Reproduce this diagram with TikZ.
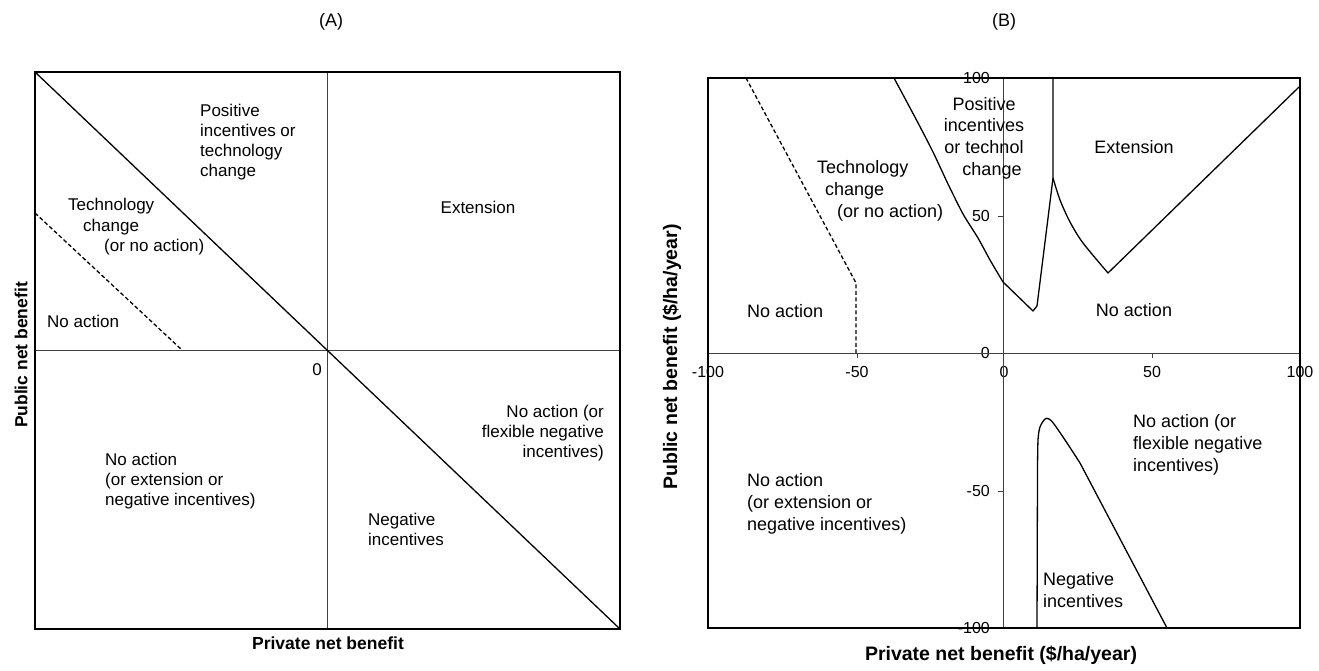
\documentclass[tikz,border=0pt]{standalone}
\usepackage{fontspec}
\setmainfont{Liberation Sans}
\begin{document}
\begin{tikzpicture}[x=1pt,y=-1pt,
  frame/.style={line width=1.6pt},
  axisline/.style={line width=0.8pt, black!75},
  curve/.style={line width=1.3pt, line join=round},
  dashline/.style={line width=1.3pt, dash pattern=on 4pt off 2.5pt},
  ticklen/.style={line width=0.8pt, black!75},
  lblA/.style={font=\fontsize{17}{20}\selectfont, inner sep=0pt},
  lblB/.style={font=\fontsize{18}{22}\selectfont, inner sep=0pt},
  ticklbl/.style={font=\fontsize{16}{18}\selectfont, inner sep=0pt},
  axistitleA/.style={font=\bfseries\fontsize{17.5}{20}\selectfont, inner sep=0pt},
  axistitleB/.style={font=\bfseries\fontsize{19.5}{22}\selectfont, inner sep=0pt},
  paneltitle/.style={font=\fontsize{18}{20}\selectfont, inner sep=0pt}]
\useasboundingbox (0,0) rectangle (1319,671);

% ---------------- Panel A ----------------
\node[paneltitle] (titleA) at (331,22) {(A)};
\draw[axisline] (35,350) -- (620,350);
\draw[axisline] (327,72) -- (327,629);
\draw[curve] (35,72) -- (620,629);
\draw[dashline] (35,213) -- (182,350);
\draw[frame] (35,72) rectangle (620,629);

% multi-line nodes: base anchor = baseline of the last line
\node[lblA, align=left, anchor=base west] (posA) at (200,177) {Positive\\incentives or\\technology\\change};
\node[lblA, align=left, anchor=base west] (techA) at (68,251) {Technology\\\hspace*{15pt}change\\\hspace*{36pt}(or no action)};
\node[lblA, anchor=base west] (noactA) at (47,327) {No action};
\node[lblA] (zeroA) at (317,370) {0};
\node[lblA] (extA) at (478,207) {Extension};
\node[lblA, align=left, anchor=base west] (extnA) at (105,505) {No action\\(or extension or\\negative incentives)};
\node[lblA, align=right, anchor=base east] (flexA) at (604,457) {No action (or\\flexible negative\hspace*{5pt}\\incentives)};
\node[lblA, align=left, anchor=base west] (negA) at (368,545) {Negative\\incentives};
\node[axistitleA] (xtitleA) at (328,643) {Private net benefit};
\node[axistitleA, rotate=90] (ytitleA) at (21,355) {Public net benefit};

% ---------------- Panel B ----------------
\node[paneltitle] (titleB) at (1004,22) {(B)};
% tick labels
\node[ticklbl, anchor=east] (ty100) at (990,78) {100};
\node[ticklbl, anchor=east] (ty50) at (990,216) {50};
\node[ticklbl, anchor=east] (ty0) at (990,353) {0};
\node[ticklbl, anchor=east] (tym50) at (990,491) {-50};
\node[ticklbl, anchor=east] (tym100) at (990,628) {-100};
\node[ticklbl] (txm100) at (708,372) {-100};
\node[ticklbl] (txm50) at (857,372) {-50};
\node[ticklbl] (tx0) at (1004,372) {0};
\node[ticklbl] (tx50) at (1152,372) {50};
\node[ticklbl] (tx100) at (1300,372) {100};

\draw[axisline] (708,353) -- (1300,353);
\draw[axisline] (1003,78) -- (1003,628);
\foreach \xx in {857,1152} \draw[ticklen] (\xx,353) -- (\xx,358);
\foreach \yy in {216,491} \draw[ticklen] (998,\yy) -- (1003,\yy);

% curves
\draw[dashline] (746,78) -- (856,283) -- (856,353);
\draw[curve] plot[smooth, tension=0.4] coordinates {(894,78) (917,121) (933,152) (948,184) (963,214) (978,238) (990,260) (1003,282)}
  -- (1033,311) -- (1037,306) -- (1053,178) -- (1053,78);
\draw[curve] plot[smooth, tension=0.5] coordinates {(1053,178) (1060,200) (1070,222) (1083,243) (1108,273)} -- (1299,87);
\draw[curve] (1037,628) -- (1037.5,470)
  plot[smooth, tension=0.5] coordinates {(1037.5,470) (1038,440) (1040,427) (1045,419) (1049,419) (1054,424) (1067,443) (1080,463)}
  -- (1167,628);
\draw[frame] (708,78) rectangle (1300,628);

\node[lblB, align=left, anchor=base west] (techB) at (817,218) {Technology\\\hspace*{8pt}change\\\hspace*{20pt}(or no action)};
\node[lblB, anchor=base west] (noactB1) at (747,317) {No action};
\node[lblB, align=center, anchor=base] (posB) at (984,176) {Positive\\incentives\\or technol\\\hspace*{16pt}change};
\node[lblB] (extB) at (1134,147) {Extension};
\node[lblB] (noactB2) at (1134,310) {No action};
\node[lblB, align=left, anchor=base west] (flexB) at (1133,471) {No action (or\\flexible negative\\incentives)};
\node[lblB, align=left, anchor=base west] (negB) at (1043,607) {Negative\\incentives};
\node[lblB, align=left, anchor=base west] (extnB) at (747,530) {No action\\(or extension or\\negative incentives)};
\node[axistitleB] (xtitleB) at (1001,655) {Private net benefit (\$/ha/year)};
\node[axistitleB, rotate=90] (ytitleB) at (672,357) {Public net benefit (\$/ha/year)};
\end{tikzpicture}
\end{document}
